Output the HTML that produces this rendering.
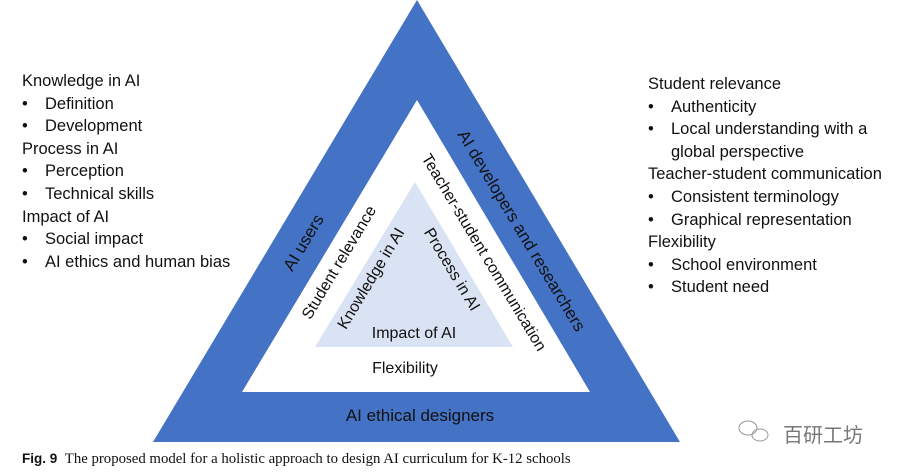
<!DOCTYPE html>
<html><head><meta charset="utf-8"><style>
body{margin:0;width:900px;height:475px;background:#fff;overflow:hidden;position:relative;font-family:"Liberation Sans",sans-serif;}
.l{position:absolute;font-size:16.5px;color:#111;line-height:22.6px;white-space:nowrap}
.l div{height:22.6px}
.b{display:inline-block;width:23px}
.r{position:absolute;white-space:nowrap;transform:translate(-50%,-50%);font-size:16px;color:#111}
.w{color:#111;font-size:17px}
</style></head><body>
<svg width="900" height="475" style="position:absolute;left:0;top:0">
<polygon points="417,0 153,442 680,442" fill="#4472c4"/>
<polygon points="417,100 242,392 590,392" fill="#fff"/>
<polygon points="415,182 315,347 513,347" fill="#dae3f3"/>
<g fill="none" stroke="#999" stroke-width="1"><ellipse cx="748" cy="428" rx="9" ry="7"/><ellipse cx="760" cy="435" rx="8" ry="6"/></g>
</svg>
<div class="l" style="left:22px;top:70px">
<div>Knowledge in AI</div><div><span class="b">•</span>Definition</div><div><span class="b">•</span>Development</div>
<div>Process in AI</div><div><span class="b">•</span>Perception</div><div><span class="b">•</span>Technical skills</div>
<div>Impact of AI</div><div><span class="b">•</span>Social impact</div><div><span class="b">•</span>AI ethics and human bias</div>
</div>
<div class="l" style="left:648px;top:73px">
<div>Student relevance</div><div><span class="b">•</span>Authenticity</div><div><span class="b">•</span>Local understanding with a</div>
<div><span class="b"></span>global perspective</div><div>Teacher-student communication</div><div><span class="b">•</span>Consistent terminology</div>
<div><span class="b">•</span>Graphical representation</div><div>Flexibility</div><div><span class="b">•</span>School environment</div><div><span class="b">•</span>Student need</div>
</div>
<div class="r w" style="left:304px;top:243px;transform:translate(-50%,-50%) rotate(-59deg)">AI users</div>
<div class="r w" style="left:521px;top:231px;transform:translate(-50%,-50%) rotate(59deg)">AI developers and researchers</div>
<div class="r" style="left:483px;top:253px;transform:translate(-50%,-50%) rotate(59deg)">Teacher-student communication</div>
<div class="r" style="left:340px;top:263px;transform:translate(-50%,-50%) rotate(-59deg)">Student relevance</div>
<div class="r" style="left:372px;top:279px;transform:translate(-50%,-50%) rotate(-59deg)">Knowledge in AI</div>
<div class="r" style="left:451px;top:270px;transform:translate(-50%,-50%) rotate(59deg)">Process in AI</div>
<div class="r" style="left:414px;top:334px">Impact of AI</div>
<div class="r" style="left:405px;top:369px">Flexibility</div>
<div class="r w" style="left:420px;top:416px">AI ethical designers</div>
<div style="position:absolute;left:783px;top:419px;font-size:20px;color:#777;font-family:'Liberation Sans','Noto Sans CJK SC',sans-serif">百研工坊</div>
<div style="position:absolute;left:22px;top:451px;font-size:13.5px;white-space:nowrap;color:#111"><b style="font-family:'Liberation Sans',sans-serif">Fig. 9</b>&nbsp; <span style="font-family:'Liberation Serif',serif;font-size:14.8px">The proposed model for a holistic approach to design AI curriculum for K-12 schools</span></div>
</body></html>
